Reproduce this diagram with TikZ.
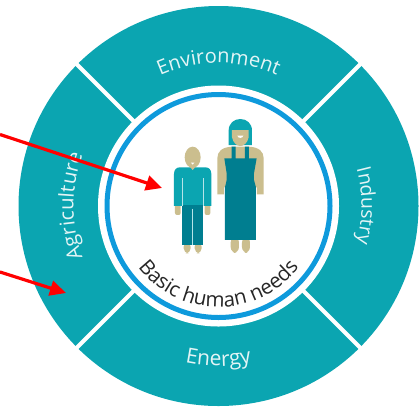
\documentclass[tikz,border=0pt]{standalone}
\usepackage{fontspec}
\setmainfont{Open Sans}
\usetikzlibrary{decorations.text,arrows.meta}
\definecolor{ringteal}{HTML}{0BA5B1}
\definecolor{darkteal}{HTML}{007E90}
\definecolor{skin}{HTML}{CBBE8E}
\definecolor{ringblue}{HTML}{0E9ADC}
\definecolor{labelgrey}{HTML}{262626}
\definecolor{labelwhite}{HTML}{E4F5F6}
\tikzset{
  gapline/.style={draw=white,line width=4pt},
  redarrow/.style={draw=red,line width=3.2pt,-{Triangle[length=16pt,width=15pt]}},
  sep/.style={draw=white!70!ringteal,line width=0.6pt},
  figure frame/.style={shift={(130,100)},x=0.3333pt,y=-0.3333pt},
  arc text/.style n args={3}{decorate,decoration={text along path,text align=center,
    text={|\fontsize{#2}{20}\selectfont\color{#3}|#1}}},
}
\begin{document}
\begin{tikzpicture}[x=1pt,y=-1pt]
\useasboundingbox (0,0) rectangle (419,408);
\coordinate (c) at (218.5,206);
\coordinate (ul) at (76,63.5);
\coordinate (ur) at (361,63.5);
\coordinate (ll) at (76,348.5);
\coordinate (lr) at (361,348.5);
\coordinate (a1s) at (0,134.5);
\coordinate (a1e) at (162,188);
\coordinate (a2s) at (0,272);
\coordinate (a2e) at (66,293);
% ring
\fill[ringteal] (c) circle[radius=200];
\draw[gapline] (ul) -- (lr);
\draw[gapline] (ur) -- (ll);
\fill[white] (c) circle[radius=120.5];
\draw[ringblue,line width=5pt] (c) circle[radius=111.5];
% ring labels
\begin{scope}[shift={(c)},x=1pt,y=1pt]
\path[arc text={Environment}{20}{labelwhite}] (150:143) arc[start angle=150,end angle=30,radius=143];
\path[arc text={Industry}{19.5}{labelwhite}] (40:143) arc[start angle=40,end angle=-40,radius=143];
\path[arc text={Agriculture}{20.5}{labelwhite}] (220:145) arc[start angle=220,end angle=140,radius=145];
\path[arc text={Energy}{21}{labelwhite}] (235:160) arc[start angle=235,end angle=305,radius=160];
\path[arc text={Basic human needs}{20.5}{labelgrey}] (200:101) arc[start angle=200,end angle=340,radius=101];
\end{scope}
% child
\begin{scope}[figure frame]
\fill[skin] (188,172) ellipse[x radius=24,y radius=32];
\fill[skin] (180,195) rectangle (196,210);
\fill[white] (183,188) -- (193,188) -- (188,194) -- cycle;
\fill[skin,rounded corners=2] (135,312) rectangle (152,345);
\fill[skin,rounded corners=2] (224,312) rectangle (241,345);
\fill[skin,rounded corners=5] (161,425) rectangle (182,460);
\fill[skin,rounded corners=5] (194,425) rectangle (215,460);
\fill[ringteal] (132,318) -- (132,222) .. controls (132,208) and (140,202) .. (150,202) -- (226,202) .. controls (236,202) and (244,208) .. (244,222) -- (244,318) -- cycle;
\fill[skin] (178,199) -- (198,199) -- (188,210) -- cycle;
\fill[darkteal] (157,314) rectangle (219,434);
\draw[sep] (157,235) -- (157,318);
\draw[sep] (219,235) -- (219,318);
\draw[sep] (188,326) -- (188,434);
% woman
\fill[ringteal] (296,135) -- (296,92) .. controls (296,70) and (312,57) .. (331,57) .. controls (350,57) and (366,70) .. (366,92) -- (366,135) -- cycle;
\fill[skin] (306,90) -- (356,90) -- (356,112) .. controls (352,130) and (341,138) .. (331,138) .. controls (321,138) and (310,130) .. (306,112) -- cycle;
\fill[white] (322,107) -- (340,107) .. controls (338,116) and (324,116) .. (322,107) -- cycle;
\fill[skin] (262,283) -- (262,175) .. controls (262,155) and (275,142) .. (305,140) -- (357,140) .. controls (388,142) and (401,155) .. (401,175) -- (401,283) -- (381,283) -- (381,262) -- (372,262) -- (290,262) -- (282,262) -- (282,283) -- cycle;
\fill[skin,rounded corners=6] (302,410) rectangle (327,459);
\fill[skin,rounded corners=6] (336,410) rectangle (360,459);
\fill[darkteal] (305,140) -- (317,140) -- (317,175) -- (345,175) -- (345,140) -- (357,140) -- (357,175) -- (380,175) -- (372,220) -- (372,240) -- (378,262) -- (378,420) -- (285,420) -- (285,262) -- (290,240) -- (290,220) -- (283,175) -- (305,175) -- cycle;
\end{scope}
% arrows
\draw[redarrow] (a1s) -- (a1e);
\draw[redarrow] (a2s) -- (a2e);
\end{tikzpicture}
\end{document}
